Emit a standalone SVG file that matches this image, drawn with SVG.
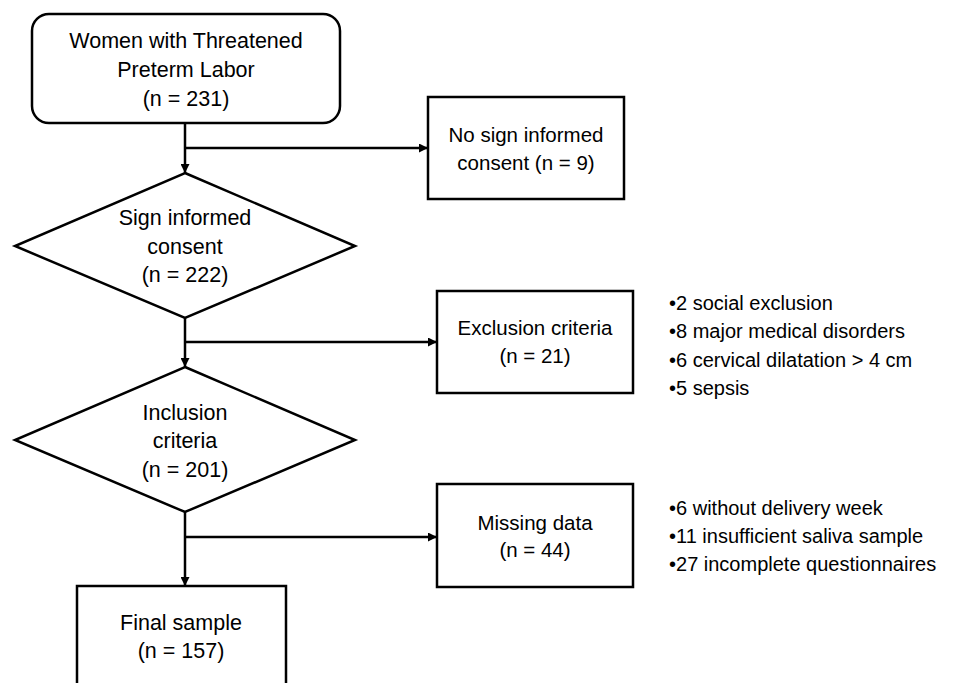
<svg xmlns="http://www.w3.org/2000/svg" width="977" height="683" viewBox="0 0 977 683">
<style>
.s{fill:#fff;stroke:#000;stroke-width:2.5}
.t{font-family:"Liberation Sans",Arial,sans-serif;font-size:21.5px;fill:#000;text-anchor:middle}
.m{font-size:20.5px}
.b{font-family:"Liberation Sans",Arial,sans-serif;font-size:20px;fill:#000}
.c{fill:none;stroke:#000;stroke-width:2.5}
</style>
<defs>
<marker id="a" viewBox="0 0 10 10" refX="10" refY="5" markerWidth="3.6" markerHeight="3.6" orient="auto" markerUnits="strokeWidth">
<path d="M0,0L10,5L0,10z" fill="#000"/>
</marker>
</defs>
<rect width="977" height="683" fill="#fff"/>
<g id="connectors">
<path class="c" d="M185,123V173" marker-end="url(#a)"/>
<path class="c" d="M185,148H428" marker-end="url(#a)"/>
<path class="c" d="M185,318V367" marker-end="url(#a)"/>
<path class="c" d="M185,342H437" marker-end="url(#a)"/>
<path class="c" d="M185,512V586" marker-end="url(#a)"/>
<path class="c" d="M185,537H437" marker-end="url(#a)"/>
</g>
<g id="start">
<rect class="s" x="32" y="14" width="308" height="109" rx="17"/>
<text class="t" x="186" y="48">Women with Threatened</text>
<text class="t" x="186" y="77">Preterm Labor</text>
<text class="t" x="186" y="106">(n = 231)</text>
</g>
<g id="noconsent">
<rect class="s" x="428" y="97" width="196" height="102"/>
<text class="t m" x="526" y="142">No sign informed</text>
<text class="t m" x="526" y="170">consent (n = 9)</text>
</g>
<g id="consent">
<path class="s" d="M185,173L355,246L185,318L15,246Z"/>
<text class="t" x="185" y="225">Sign informed</text>
<text class="t" x="185" y="254">consent</text>
<text class="t" x="185" y="282">(n = 222)</text>
</g>
<g id="exclusion">
<rect class="s" x="437" y="291" width="196" height="102"/>
<text class="t m" x="535" y="335">Exclusion criteria</text>
<text class="t m" x="535" y="363">(n = 21)</text>
</g>
<g id="exclusion-list">
<text class="b" x="669" y="310">•2 social exclusion</text>
<text class="b" x="669" y="338">•8 major medical disorders</text>
<text class="b" x="669" y="367">•6 cervical dilatation &gt; 4 cm</text>
<text class="b" x="669" y="395">•5 sepsis</text>
</g>
<g id="inclusion">
<path class="s" d="M185,367L355,440L185,512L15,440Z"/>
<text class="t" x="185" y="420">Inclusion</text>
<text class="t" x="185" y="448">criteria</text>
<text class="t" x="185" y="477">(n = 201)</text>
</g>
<g id="missing">
<rect class="s" x="437" y="484" width="196" height="103"/>
<text class="t m" x="535" y="530">Missing data</text>
<text class="t m" x="535" y="557">(n = 44)</text>
</g>
<g id="missing-list">
<text class="b" x="669" y="515">•6 without delivery week</text>
<text class="b" x="669" y="543">•11 insufficient saliva sample</text>
<text class="b" x="669" y="571">•27 incomplete questionnaires</text>
</g>
<g id="final">
<rect class="s" x="77" y="586" width="209" height="110"/>
<text class="t" x="181" y="630">Final sample</text>
<text class="t" x="181" y="658">(n = 157)</text>
</g>
</svg>
